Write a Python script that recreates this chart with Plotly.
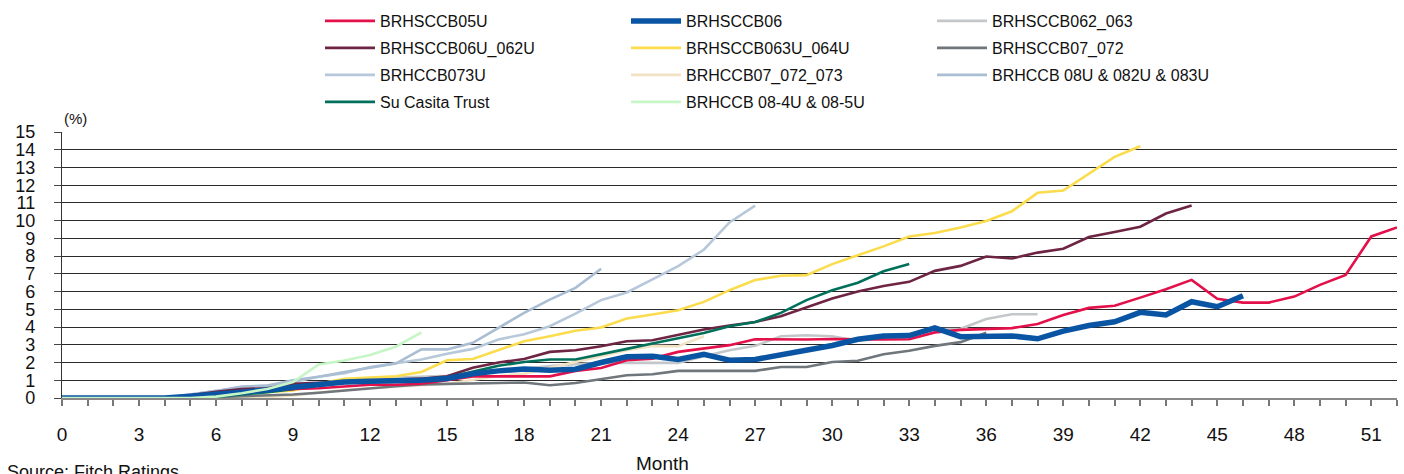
import plotly.graph_objects as go

months = list(range(0, 53))

names = ["BRHSCCB05U", "BRHSCCB06", "BRHSCCB062_063",
         "BRHSCCB06U_062U", "BRHSCCB063U_064U", "BRHSCCB07_072",
         "BRHCCB073U", "BRHCCB07_072_073", "BRHCCB 08U & 082U & 083U",
         "Su Casita Trust", "BRHCCB 08-4U & 08-5U"]

brhsccb05u = [0, 0, 0, 0, 0, 0.1, 0.25, 0.4, 0.45, 0.5, 0.55, 0.65, 0.75, 0.75, 0.8,
              1.0, 1.22, 1.22, 1.22, 1.22, 1.53, 1.69, 2.13, 2.22, 2.6, 2.77, 2.98, 3.31, 3.3, 3.3,
              3.33, 3.3, 3.3, 3.31, 3.7, 3.84, 3.9, 3.94, 4.17, 4.68, 5.08, 5.2, 5.66, 6.13, 6.66,
              5.6, 5.38, 5.38, 5.72, 6.38, 6.94, 9.11, 9.62]
brhsccb06 = [0, 0, 0, 0, 0, 0.1, 0.2, 0.35, 0.45, 0.6, 0.75, 0.9, 0.94, 0.94, 1.0,
             1.1, 1.37, 1.53, 1.64, 1.56, 1.62, 2.0, 2.32, 2.35, 2.17, 2.47, 2.13, 2.17, 2.41, 2.66,
             2.96, 3.31, 3.5, 3.52, 3.95, 3.46, 3.45, 3.5, 3.34, 3.77, 4.09, 4.3, 4.83, 4.68, 5.43,
             5.15, 5.77]
brhsccb062_063 = [0, 0, 0, 0, 0, 0.05, 0.15, 0.3, 0.45, 0.6, 0.8, 1.0, 1.1, 1.15, 1.2,
                  1.25, 1.35, 1.5, 1.65, 1.8, 1.9, 1.98, 1.98, 1.98, 1.98, 2.35, 2.69, 2.94, 3.48, 3.54,
                  3.48, 3.23, 3.36, 3.45, 3.87, 3.9, 4.45, 4.72, 4.72]
brhsccb06u_062u = [0, 0, 0, 0, 0, 0.15, 0.35, 0.5, 0.55, 0.8, 0.85, 0.9, 0.95, 1.0, 1.09,
                   1.23, 1.71, 2.0, 2.2, 2.6, 2.69, 2.92, 3.2, 3.26, 3.54, 3.86, 4.09, 4.29, 4.61, 5.1,
                   5.61, 6.0, 6.32, 6.55, 7.17, 7.45, 7.98, 7.87, 8.2, 8.42, 9.08, 9.36, 9.66, 10.4, 10.85]
brhsccb063u_064u = [0, 0, 0, 0, 0, 0.05, 0.15, 0.25, 0.35, 0.42, 0.8, 1.09, 1.15, 1.23, 1.47,
                    2.13, 2.2, 2.72, 3.2, 3.48, 3.79, 3.97, 4.48, 4.71, 4.95, 5.42, 6.08, 6.65, 6.89, 6.93,
                    7.55, 8.05, 8.55, 9.11, 9.3, 9.62, 9.98, 10.53, 11.57, 11.7, 12.64, 13.6, 14.2]
brhsccb07_072 = [0, 0, 0, 0, 0, 0.02, 0.05, 0.1, 0.15, 0.2, 0.3, 0.43, 0.55, 0.66, 0.77,
                 0.81, 0.81, 0.85, 0.87, 0.72, 0.85, 1.05, 1.28, 1.34, 1.53, 1.53, 1.53, 1.53, 1.75, 1.75,
                 2.03, 2.1, 2.47, 2.66, 2.94, 3.15, 3.68]
brhccb073u = [0, 0, 0, 0, 0, 0.2, 0.4, 0.6, 0.7, 0.9, 1.2, 1.4, 1.75, 1.94, 2.17,
              2.5, 2.77, 3.3, 3.6, 4.05, 4.76, 5.52, 5.95, 6.69, 7.44, 8.36, 9.9, 10.85]
brhccb07_072_073 = [0, 0, 0, 0, 0, 0, 0.02, 0.05, 0.05, 0.15, 0.3, 0.45, 0.55, 0.65, 0.72,
                    0.8, 1.0, 1.24, 1.37, 1.71, 2.03, 2.35, 2.69, 2.94, 2.92, 3.48]
brhccb08u = [0, 0, 0, 0, 0, 0.2, 0.4, 0.65, 0.7, 1.0, 1.2, 1.47, 1.7, 1.94, 2.74,
             2.74, 3.11, 3.95, 4.8, 5.55, 6.21, 7.29]
su_casita = [0, 0, 0, 0, 0, 0.03, 0.08, 0.2, 0.32, 0.5, 0.8, 0.85, 0.9, 0.95, 1.0,
             1.15, 1.5, 1.82, 2.03, 2.17, 2.17, 2.45, 2.77, 3.07, 3.35, 3.67, 4.05, 4.29, 4.8, 5.52,
             6.08, 6.5, 7.15, 7.55]
brhccb08_4u = [0, 0, 0, 0, 0, 0, 0.08, 0.27, 0.51, 0.9, 1.89, 2.12, 2.42, 2.89, 3.7]

series = [brhsccb05u, brhsccb06, brhsccb062_063, brhsccb06u_062u, brhsccb063u_064u,
          brhsccb07_072, brhccb073u, brhccb07_072_073, brhccb08u, su_casita, brhccb08_4u]
colors = ["#E3104A", "#0A55A3", "#C4C7CA", "#6E2443", "#FBDC4C", "#6F767C",
          "#B6C8DA", "#F1E2C4", "#A9BDD3", "#00705B", "#C6F6C6"]
widths = [2.6, 5.5, 2.6, 2.6, 2.6, 2.6, 2.6, 2.6, 2.6, 2.6, 2.6]
draw_order = [2, 7, 5, 6, 8, 4, 3, 9, 0, 1, 10]

FONT = "Liberation Sans, Arial, sans-serif"
W, H = 1404, 474
L, R, T, B = 62, 7, 132, 76

fig = go.Figure()
legend_keys = ["legend", "legend2", "legend3", "legend4"]
for i in draw_order:
    vals = series[i]
    fig.add_trace(go.Scatter(
        x=months[:len(vals)], y=vals, mode="lines", name=names[i],
        line=dict(color=colors[i], width=widths[i]),
        legend=legend_keys[i // 3], legendrank=i,
        hoverinfo="x+y+name"))

row_y = [21, 48, 75, 102]
legend_common = dict(orientation="h", xref="container", yref="container",
                     x=320 / W, xanchor="left", yanchor="middle",
                     entrywidth=241, entrywidthmode="pixels", itemwidth=50,
                     font=dict(family=FONT, size=16, color="#111111"),
                     bgcolor="rgba(0,0,0,0)", traceorder="normal")
layout_legends = {}
for k, key in enumerate(legend_keys):
    d = dict(legend_common)
    d["y"] = 1 - row_y[k] / H
    layout_legends[key] = d

fig.update_layout(
    width=W, height=H,
    margin=dict(l=L, r=R, t=T, b=B, autoexpand=False),
    plot_bgcolor="white", paper_bgcolor="white",
    showlegend=True,
    font=dict(family=FONT, size=19, color="#111111"),
    **layout_legends,
)

fig.update_xaxes(
    range=[0, 52], tickmode="linear", tick0=0, dtick=3,
    ticks="outside", ticklen=6, tickcolor="#777777", tickwidth=1.5,
    minor=dict(dtick=1, ticks="outside", ticklen=6, tickcolor="#777777", tickwidth=1.5),
    showgrid=False, zeroline=False,
    showline=True, linecolor="#888888", linewidth=2,
    ticklabelstandoff=12,
    tickfont=dict(family=FONT, size=19, color="#111111"),
)
fig.update_yaxes(
    range=[0, 15], tickmode="linear", tick0=0, dtick=1,
    ticks="outside", ticklen=7, tickcolor="#444444",
    showgrid=True, gridcolor="#2a2a2a", gridwidth=1.2,
    zeroline=False, showline=True, linecolor="#333333", linewidth=1.2,
    ticklabelstandoff=15,
    tickfont=dict(family=FONT, size=18, color="#111111"),
)

plot_w = W - L - R
plot_h = H - T - B
fig.add_annotation(text="(%)", xref="paper", yref="paper",
                   x=(75 - L) / plot_w, y=(H - B - 118) / plot_h,
                   xanchor="center", yanchor="middle", showarrow=False,
                   font=dict(family=FONT, size=15, color="#111111"))
fig.add_annotation(text="Month", xref="paper", yref="paper",
                   x=(662 - L) / plot_w, y=(H - B - 463) / plot_h,
                   xanchor="center", yanchor="middle", showarrow=False,
                   font=dict(family=FONT, size=19, color="#111111"))
fig.add_annotation(text="Source: Fitch Ratings", xref="paper", yref="paper",
                   x=(5 - L) / plot_w, y=(H - B - 472) / plot_h,
                   xanchor="left", yanchor="middle", showarrow=False,
                   font=dict(family=FONT, size=18, color="#111111"))

fig.write_html("out.html", config={"displayModeBar": False},
               post_script="document.body.style.margin='0px';")
